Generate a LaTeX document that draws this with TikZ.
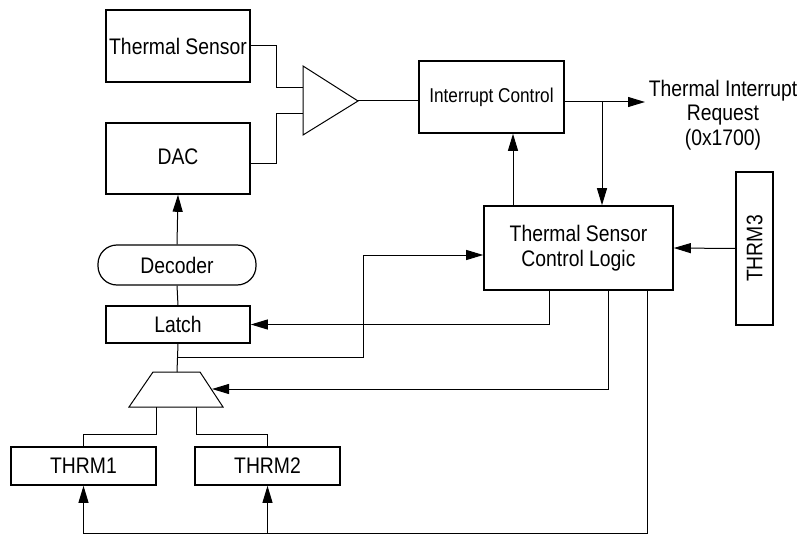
\documentclass[tikz,border=0pt]{standalone}
\usepackage{fontspec}
\setmainfont{Liberation Sans}[FakeStretch=0.86]
\usetikzlibrary{arrows.meta,positioning,shapes.geometric}

\tikzset{
  blk/.style={draw,line width=1.6pt,inner sep=0pt,font=\fontsize{22.5}{25}\selectfont},
  wire/.style={line width=1pt},
  arr/.style={wire,-{Triangle[length=17pt,width=10pt]}},
}

\begin{document}
\begin{tikzpicture}[x=1pt,y=-1pt]
  \useasboundingbox (0,0) rectangle (801,535);
  % left column
  \node[blk,minimum width=144pt,minimum height=72pt] (ts) at (178,46) {Thermal Sensor};
  \node[blk,minimum width=144pt,minimum height=71pt] (dac) at (178,158.5) {\raisebox{4pt}{DAC}};
  \node[blk,line width=1.2pt,rounded corners=19pt,minimum width=158pt,minimum height=40pt] (dec) at (177,265) {Decoder};
  \node[blk,minimum width=144pt,minimum height=37pt] (lat) at (178,324.5) {Latch};
  \foreach \n/\x [count=\i] in {t1/83.5,t2/267.5}{
    \node[blk,minimum width=145pt,minimum height=38pt] (\n) at (\x,466) {THRM\i};
  }
  % comparator and multiplexer
  \draw[wire] (303,66) -- (358,101) -- (303,135) -- cycle;
  \coordinate (ampin1) at (303,88);
  \coordinate (ampin2) at (303,113);
  \coordinate (ampout) at (358,101);
  \draw[wire] (153,372) -- (200,372) -- (223,407) -- (129,407) -- cycle;
  \coordinate (muxin) at (177,372);
  \coordinate (muxsel) at (212,389);
  \coordinate (muxo1) at (156,407);
  \coordinate (muxo2) at (196,407);
  % right side
  \node[blk,font=\fontsize{20}{23}\selectfont,minimum width=145pt,minimum height=72pt] (ic) at (491.5,97) {Interrupt Control};
  \node[blk,align=center,minimum width=189pt,minimum height=84pt] (tscl) at (578.5,248) {Thermal Sensor\\Control Logic};
  \node[blk,rotate=90,minimum width=153pt,minimum height=37pt] (t3) at (754.5,248.5) {THRM3};
  \node[font=\fontsize{22.5}{24.5}\selectfont,align=center] (irqtxt) at (723,115) {Thermal Interrupt\\Request\\(0x1700)};
  \coordinate (irq) at (645,102);
  \coordinate (br) at (602,102);
  \coordinate (tap) at (177,357);
  \coordinate (fb) at (647,533);

  % connectors
  \draw[wire] (ts.east) -- ++(26,0) |- (ampin1);
  \draw[wire] ([yshift=-4.5pt]dac.east) -- ++(26,0) |- (ampin2);
  \draw[wire] (ampout) -- (ampout -| ic.west);
  \draw[arr] (ic.east |- irq) -- (irq);
  \draw[arr] (br) -- (br |- tscl.north);
  \draw[arr] ([xshift=-65.5pt]tscl.north) -- ([xshift=-65.5pt]tscl.north |- ic.south);
  \draw[arr] (t3.north) -- (tscl.east);
  \draw[arr] (dec.north) -- (dac.south);
  \draw[wire] (dec.south) -- (lat.north);
  \draw[wire] (lat.south) -- (muxin);
  \draw[arr] (tap) -- (363,357) |- ([yshift=-7pt]tscl.west);
  \draw[arr] ([xshift=-29.5pt]tscl.south) |- (lat.east);
  \draw[arr] ([xshift=29.5pt]tscl.south) |- (muxsel);
  \draw[wire] (muxo1) -- ++(0,27) -| (t1.north);
  \draw[wire] (muxo2) -- ++(0,27) -| (t2.north);
  \draw[arr] (tscl.south -| fb) -- (fb) -| (t1.south);
  \draw[arr] (fb -| t2.south) -- (t2.south);
\end{tikzpicture}
\end{document}
